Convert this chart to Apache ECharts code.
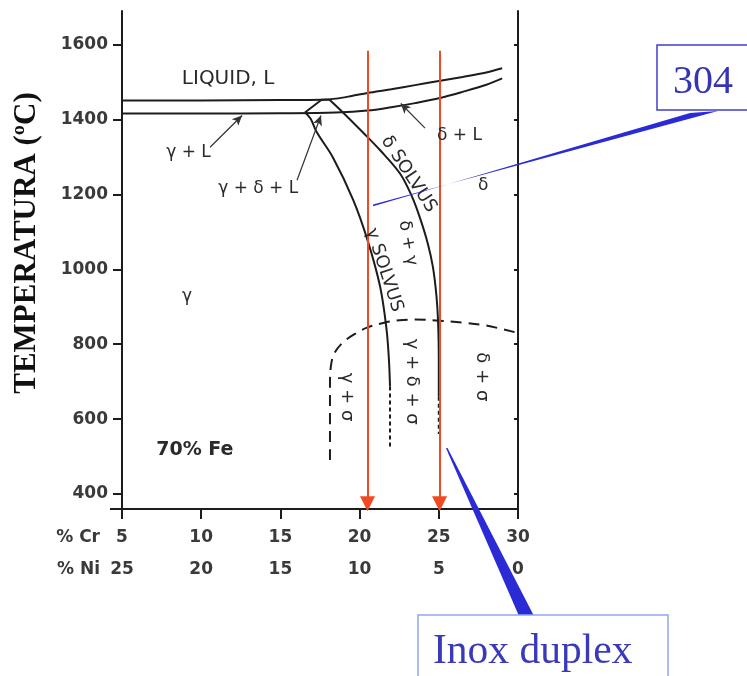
<!DOCTYPE html>
<html>
<head>
<meta charset="utf-8">
<script src="https://cdn.jsdelivr.net/npm/echarts@6/dist/echarts.min.js"></script>
<style>
  html, body { margin: 0; padding: 0; background: #fff; }
  #chart { width: 747px; height: 676px; }
</style>
</head>
<body>
<div id="chart"></div>
<script>
// Fe-Cr-Ni vertical section at 70 % Fe: %Ni = 30 - %Cr
const crTicks = [5, 10, 15, 20, 25, 30];
const niTicks = [25, 20, 15, 10, 5, 0];
const tempTicks = [400, 600, 800, 1000, 1200, 1400, 1600];

// Liquidus (upper) and solidus (lower) lines
const liquidusCr = [5, 10, 15, 17.6, 18.5, 19.5, 20.5, 22, 23.5, 25, 26.5, 28, 29];
const liquidusT  = [1451, 1451, 1452, 1453, 1456, 1463, 1471, 1481, 1492, 1503, 1514, 1526, 1537];
const solidusCr  = [5, 10, 15, 18.5, 20.5, 22, 23.5, 25, 26.5, 28, 29];
const solidusT   = [1416, 1416, 1417, 1419, 1424, 1433, 1444, 1457, 1474, 1493, 1510];

// Left edge of the γ + δ + L three-phase triangle
const triCr = [16.55, 17.6, 18.1];
const triT  = [1419, 1453, 1453];

// δ solvus
const deltaSolvusCr = [18.1, 18.95, 20.2, 21.3, 22.55, 23.3, 23.8, 24.3, 24.63, 24.85, 24.95, 25.0, 25.0];
const deltaSolvusT  = [1453, 1419, 1366, 1318, 1256, 1195, 1139, 1070, 1006, 930, 864, 760, 660];
const deltaTailCr = [25.0, 25.0];
const deltaTailT  = [660, 560];

// γ solvus
const gammaSolvusCr = [16.55, 16.9, 17.3, 18.3, 19.6, 20.5, 21.3, 21.7, 21.85, 21.92];
const gammaSolvusT  = [1419, 1403, 1366, 1300, 1185, 1078, 953, 840, 760, 687];
const gammaTailCr = [21.92, 21.92];
const gammaTailT  = [687, 526];

// σ phase boundary (dashed)
const sigmaCr = [18.13, 18.13, 18.2, 18.4, 18.95, 19.8, 20.5, 21.5, 22.5, 23.5, 25.0, 26.5, 28.0, 30.0];
const sigmaT  = [491, 700, 745, 775, 805, 830, 845, 857, 864, 866, 863, 858, 850, 830];

// Alloy composition lines (arrows down to the composition axis)
const alloyCr = [20.5, 25.05];
const alloyTopT = 1584;
const alloyBottomT = 374;

// Leader lines from region labels to the boundaries
const leaderFromCr = [10.56, 16.05, 24.13];
const leaderFromT  = [1326, 1238, 1377];
const leaderToCr   = [12.58, 17.56, 22.6];
const leaderToT    = [1411, 1411, 1443];

// Region labels
const regionText = ['LIQUID, L', 'γ + L', 'γ + δ + L', 'δ + L', 'δ SOLVUS', 'δ', 'δ + γ',
                    'γ SOLVUS', 'γ', '70% Fe', 'γ + σ', 'γ + δ + σ', 'δ + σ'];
const regionCr = [11.7, 9.2, 13.6, 26.3, 23.1, 27.8, 23.05, 21.55, 9.1, 9.6, 19.2, 23.3, 27.7];
const regionT  = [1510, 1313, 1216, 1358, 1254, 1225, 1070, 998, 926, 518, 659, 700, 713];

// Callout targets for the two grade boxes
const calloutText = ['304', 'Inox duplex'];
const calloutTipCr = [20.85, 25.5];
const calloutTipT  = [1171, 523];

const pair = (xs, ys) => xs.map((x, i) => [x, ys[i]]);

const INK = '#1c1c1c';
const curve = (name, xs, ys, type, smooth) => ({
  name, type: 'line', data: pair(xs, ys),
  symbol: 'none', showSymbol: false, silent: true,
  smooth: smooth === undefined ? 0.35 : smooth,
  lineStyle: { color: INK, width: 2, type: type || 'solid' },
  z: 3
});

const chart = echarts.init(document.getElementById('chart'));

const T_MIN = 360, T_MAX = 1690;

const option = {
  animation: false,
  backgroundColor: '#fff',
  grid: { left: 122, right: 229, top: 11, bottom: 167 },
  xAxis: {
    type: 'value', min: 5, max: 30, interval: 5,
    axisLine: { lineStyle: { color: INK, width: 2 } },
    axisTick: { length: 10, lineStyle: { color: INK, width: 2 } },
    splitLine: { show: false },
    axisLabel: {
      margin: 13,
      formatter: v => {
        const i = crTicks.indexOf(v);
        return i < 0 ? '' : `{a|${v}}\n{a|${niTicks[i]}}`;
      },
      rich: { a: { fontFamily: 'DejaVu Sans', fontSize: 17, lineHeight: 32, color: '#3a3a3a', fontWeight: 'bold' } }
    }
  },
  yAxis: [{
    type: 'value', min: T_MIN, max: T_MAX,
    axisLine: { show: true, lineStyle: { color: INK, width: 2 } },
    axisTick: { show: true, length: 9, customValues: tempTicks, lineStyle: { color: INK, width: 2 } },
    splitLine: { show: false },
    axisLabel: {
      customValues: tempTicks, margin: 14,
      formatter: v => String(v),
      fontFamily: 'DejaVu Sans', fontSize: 17, fontWeight: 'bold', color: '#3a3a3a'
    }
  }, {
    type: 'value', min: T_MIN, max: T_MAX, position: 'right',
    axisLine: { show: true, lineStyle: { color: INK, width: 2 } },
    axisTick: { show: true, inside: true, length: 4, customValues: tempTicks, lineStyle: { color: INK, width: 2 } },
    axisLabel: { show: false },
    splitLine: { show: false }
  }],
  series: [
    Object.assign(curve('liquidus', liquidusCr, liquidusT), {
      markLine: {
        silent: true, symbol: ['none', 'triangle'], symbolSize: [15, 15],
        label: { show: false },
        lineStyle: { color: '#f04a22', width: 2, type: 'solid' },
        itemStyle: { color: '#f04a22' },
        data: alloyCr.map(c => [{ coord: [c, alloyTopT] }, { coord: [c, alloyBottomT] }])
      }
    }),
    Object.assign(curve('solidus', solidusCr, solidusT), {
      markLine: {
        silent: true, symbol: ['none', 'arrow'], symbolSize: [7, 10],
        label: { show: false },
        lineStyle: { color: '#333', width: 1.2, type: 'solid' },
        itemStyle: { color: '#111' },
        data: leaderFromCr.map((c, i) => [
          { coord: [c, leaderFromT[i]] },
          { coord: [leaderToCr[i], leaderToT[i]] }
        ])
      }
    }),
    curve('triangle', triCr, triT, 'solid', false),
    curve('deltaSolvus', deltaSolvusCr, deltaSolvusT),
    curve('deltaTail', deltaTailCr, deltaTailT, [4, 3], false),
    curve('gammaSolvus', gammaSolvusCr, gammaSolvusT),
    curve('gammaTail', gammaTailCr, gammaTailT, [4, 3], false),
    curve('sigma', sigmaCr, sigmaT, [11, 7])
  ]
};

chart.setOption(option);

// Annotations placed through the axes' own scales
const px = (c, t) => chart.convertToPixel({ xAxisIndex: 0, yAxisIndex: 0 }, [c, t]);

const labelRot = [0, 0, 0, 0, -57, 0, -80, -72, 0, 0, -90, -90, -90];
const labelSize = [20, 17, 17, 17, 18, 17, 17, 18, 17, 19, 18, 18, 18];
const labelWeight = ['normal', 'normal', 'normal', 'normal', 'normal', 'normal', 'normal',
                     'normal', 'normal', 'bold', 'normal', 'normal', 'normal'];

const graphics = [];

regionText.forEach((txt, i) => {
  const p = px(regionCr[i], regionT[i]);
  graphics.push({
    type: 'text', x: p[0], y: p[1], rotation: labelRot[i] * Math.PI / 180, silent: true, z: 10,
    style: {
      text: txt, align: 'center', verticalAlign: 'middle',
      fontFamily: 'DejaVu Sans', fontSize: labelSize[i], fontWeight: labelWeight[i], fill: '#2a2a2a'
    }
  });
});

// Composition row captions
const origin = px(5, T_MIN);
graphics.push({
  type: 'line', silent: true,
  shape: { x1: origin[0] - 12, y1: origin[1], x2: origin[0], y2: origin[1] },
  style: { stroke: INK, lineWidth: 2 }
});
[['% Cr', 29], ['% Ni', 61]].forEach(([t, dy]) => {
  graphics.push({
    type: 'text', x: origin[0] - 22, y: origin[1] + dy, silent: true,
    style: { text: t, align: 'right', verticalAlign: 'middle',
             fontFamily: 'DejaVu Sans', fontSize: 17, fontWeight: 'bold', fill: '#3a3a3a' }
  });
});

// Temperature axis title
graphics.push({
  type: 'text', x: 27, y: 243, rotation: Math.PI / 2, silent: true,
  style: { text: 'TEMPERATURA (ºC)', align: 'center', verticalAlign: 'middle',
           fontFamily: 'Liberation Serif', fontSize: 31, fontWeight: 'bold', fill: '#111' }
});

// Callout wedges and boxes
const BLUE = '#2b2bd6';
const tip304 = px(calloutTipCr[0], calloutTipT[0]);
graphics.push({
  type: 'polygon', silent: true, z: 20,
  shape: { points: [[tip304[0], tip304[1] - 0.8], [718, 111], [690, 113], [tip304[0], tip304[1] + 0.8]] },
  style: { fill: BLUE }
});
graphics.push({
  type: 'rect', silent: true, z: 21,
  shape: { x: 657, y: 45, width: 110, height: 65 },
  style: { fill: '#fff', stroke: '#3f3fcc', lineWidth: 1.5 }
});
graphics.push({
  type: 'text', x: 703, y: 82, silent: true, z: 22,
  style: { text: calloutText[0], align: 'center', verticalAlign: 'middle',
           fontFamily: 'Liberation Serif', fontSize: 40, fill: '#3434b4' }
});

const tipDup = px(calloutTipCr[1], calloutTipT[1]);
graphics.push({
  type: 'polygon', silent: true, z: 20,
  shape: { points: [[tipDup[0] - 0.8, tipDup[1]], [tipDup[0] + 0.8, tipDup[1]], [534, 616], [519, 616]] },
  style: { fill: BLUE }
});
graphics.push({
  type: 'rect', silent: true, z: 21,
  shape: { x: 418, y: 615, width: 250, height: 80 },
  style: { fill: '#fff', stroke: '#8ea6ee', lineWidth: 1.5 }
});
graphics.push({
  type: 'text', x: 433, y: 652, silent: true, z: 22,
  style: { text: calloutText[1], align: 'left', verticalAlign: 'middle',
           fontFamily: 'Liberation Serif', fontSize: 41.5, fill: '#3a3ab8' }
});

chart.setOption({ graphic: { elements: graphics } });
</script>
</body>
</html>
